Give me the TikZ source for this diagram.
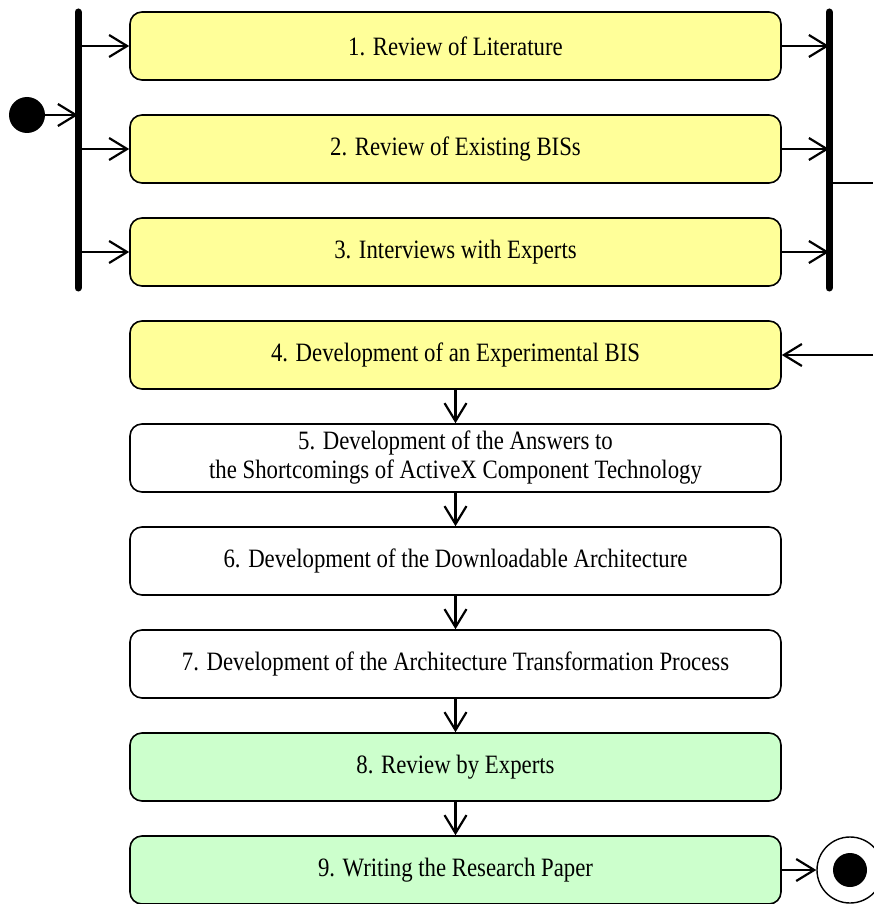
\documentclass[tikz,border=0pt]{standalone}
\usepackage{fontspec}
\setmainfont{Liberation Serif}[FakeStretch=0.86]
\usetikzlibrary{arrows.meta,positioning}
\definecolor{stepyellow}{HTML}{FFFF99}
\definecolor{stepgreen}{HTML}{CCFFCC}
\tikzset{>={Straight Barb[length=18pt,width=22pt,line width=2.2pt]},
  flow/.style={->,line width=2.4pt},
  activity/.style={draw,rectangle,rounded corners=12pt,line width=1.6pt,
    minimum width=651pt,minimum height=68pt,align=center,
    font=\fontsize{26.5}{29}\selectfont},
  forkbar/.style={line width=7pt,line cap=round}}

\begin{document}
\begin{tikzpicture}[x=1pt,y=-1pt]
\useasboundingbox (0,0) rectangle (873,904);
% activities
\node[activity,fill=stepyellow] (review) at (455.5,46) {1. Review of Literature};
\node[activity,fill=stepyellow] (existing) at (455.5,149) {2. Review of Existing BISs};
\node[activity,fill=stepyellow] (interviews) at (455.5,252) {3. Interviews with Experts};
\node[activity,fill=stepyellow] (experimental) at (455.5,355) {4. Development of an Experimental BIS};
\node[activity,fill=white] (answers) at (455.5,458) {5. Development of the Answers to\\the Shortcomings of ActiveX Component Technology};
\node[activity,fill=white] (downloadable) at (455.5,561) {6. Development of the Downloadable Architecture};
\node[activity,fill=white] (transformation) at (455.5,664) {7. Development of the Architecture Transformation Process};
\node[activity,fill=stepgreen] (experts) at (455.5,767) {8. Review by Experts};
\node[activity,fill=stepgreen] (paper) at (455.5,870) {9. Writing the Research Paper};
% start, fork and join
\node[circle,fill=black,minimum size=36pt,inner sep=0pt] (start) at (27,115) {};
\draw[forkbar] (78,12) coordinate (forktop) -- (78,288) coordinate (forkbot);
\draw[forkbar] (829,12) coordinate (jointop) -- (829,288) coordinate (joinbot);
\coordinate (fork) at (78,115);
\coordinate (join) at (829,183);
\coordinate (loopin) at (873,355);
\coordinate (loopout) at (873,183);
\draw[flow] (start) -- (fork);
\foreach \n in {review,existing,interviews} {
  \draw[flow] (fork |- \n.west) -- (\n.west);
  \draw[flow] (\n.east) -- (join |- \n.east);
}
\draw[line width=1.6pt] (join) -- (loopout);
\draw[flow] (loopin) -- (experimental.east);
% sequence
\draw[flow] (experimental) -- (answers);
\draw[flow] (answers) -- (downloadable);
\draw[flow] (downloadable) -- (transformation);
\draw[flow] (transformation) -- (experts);
\draw[flow] (experts) -- (paper);
% end
\node[circle,draw,line width=1.4pt,fill=white,minimum size=66pt,inner sep=0pt] (final) at (850,870) {};
\fill (final) circle (17pt);
\draw[flow] (paper) -- (final);
\end{tikzpicture}
\end{document}
